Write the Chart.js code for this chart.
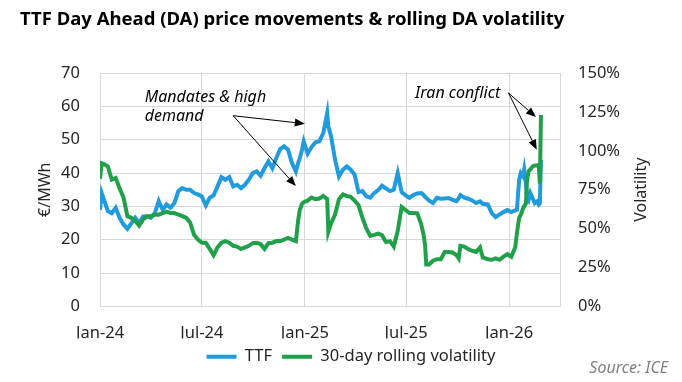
<!DOCTYPE html>
<html><head><meta charset="utf-8">
<script src="https://cdn.jsdelivr.net/npm/chart.js@4.4.1/dist/chart.umd.min.js"></script>
<style>html,body{margin:0;padding:0;background:#fff;}#wrap{width:682px;height:382px;position:relative;}</style>
</head><body><div id="wrap"><canvas id="c" width="682" height="382"></canvas></div>
<script>
// x values: days since 1 Jan 2024
const dateTicks = [0, 182, 366, 547, 731];
const dateTickLabels = ['Jan-24', 'Jul-24', 'Jan-25', 'Jul-25', 'Jan-26'];
const priceTicks = [0, 10, 20, 30, 40, 50, 60, 70];
const volTicks = [0, 25, 50, 75, 100, 125, 150];

const days = [0,3,7,14,21,28,35,42,49,56,63,70,77,84,91,98,105,112,119,126,133,140,147,154,161,168,175,182,189,196,203,210,217,224,231,238,245,252,259,266,273,280,287,294,301,308,315,322,329,336,343,350,354,357,361,364,371,378,385,392,399,406,408,413,420,427,434,441,448,455,462,469,476,483,490,497,504,511,518,525,532,539,546,553,560,567,574,578,581,583,588,595,602,609,616,623,630,637,641,644,651,658,665,672,679,684,693,700,707,714,721,728,735,742,745,749,752,756,758,761,763,766,769,773,777,781,784,786,788];

const ttfPrice = [29,34,32,28.6,28,29.6,26.6,24.6,23.3,24.9,26.6,25,27,27,26.6,28,31.6,29,30.6,29.6,31,34.6,35.5,35,35,34,33.6,33,30.3,32.6,33.3,36,38.8,38,38.8,36,36.5,35.5,36.5,38,40,40.5,39.2,41.5,43.5,41.5,44.5,47.2,48,47,43,40.5,43,44.5,47,49.5,45.8,47.8,49.2,49.5,52,58,54,51,44,39,41,42,41,39.5,34.3,34.6,33,32.6,34,34.9,36.2,35.4,34.6,35,40,34.3,33.3,32.6,33.4,33.9,34,33.5,32.8,32.5,31.8,31,32.6,32.3,32.4,32.5,32,31.6,32.5,33.4,32.6,32.3,31.8,31,31.5,30.8,30.6,28,26.8,27.6,28.3,28.9,28.3,28.8,29,38,40,39,41,37,33,32,34,32.5,31,31.5,30.6,31,44];

const volatility = [82,92,91.5,90,81.5,82.5,76,70,58,57,55,52,56,58,58,59,59,60,61,60,60,59,58,57,54,46,43,41,41,37,33,38,41,42,41,39,38.5,37,38,39,40.7,41,40,37,40.7,41,42,42,43,44,43,42,55,62,66,67,68,70,69,69.4,71,69,48,53.5,59,69,72,71,70.5,68,65,57,50,45.4,46,46.8,45.8,41.5,42,38.5,48.5,64,62,60,60,59.8,52.8,46.4,39,27,27,29.4,30.4,30.4,35,35,34.7,33,30.9,39,38.5,36.8,35.8,35,38,31.5,30.4,30,30.9,30,32,33.6,32,38,47,57,59,63,64.5,66,81,87,88,90,90.5,90.5,91,79,123];

const BLUE = '#1F9BDE';
const GREEN = '#21A04A';
const GRID = '#D9D9D9';
const TXT = '#262626';
const FONT = "'Noto Sans', 'Open Sans', sans-serif";

// annotation anchors in data units (day, €/MWh)
const notes = [
  { lines: ['Mandates & high', 'demand'], at: [80, 62.7], lineStep: 5.7,
    from: [238, 57.2], to: [[366, 54.8], [350, 36.1]] },
  { lines: ['Iran conflict'], at: [563, 64], lineStep: 5.7,
    from: [730, 64], to: [[779, 56.8], [780.5, 47]] }
];

const extras = {
  id: 'extras',
  afterDraw(chart) {
    const ctx = chart.ctx, xs = chart.scales.x, ys = chart.scales.y, ca = chart.chartArea;
    const P = (p) => [xs.getPixelForValue(p[0]), ys.getPixelForValue(p[1])];
    ctx.save();
    ctx.fillStyle = '#000'; ctx.strokeStyle = '#000';
    ctx.font = 'italic 16px ' + FONT;
    ctx.textAlign = 'left'; ctx.textBaseline = 'middle';
    notes.forEach(n => {
      n.lines.forEach((t, i) => {
        const [x, y] = P([n.at[0], n.at[1] - i * n.lineStep]);
        ctx.fillText(t, x, y);
      });
      const [fx, fy] = P(n.from);
      n.to.forEach(tp => {
        const [tx, ty] = P(tp);
        const ang = Math.atan2(ty - fy, tx - fx);
        const hl = 10, hw = 4;
        const bx = tx - hl * Math.cos(ang), by = ty - hl * Math.sin(ang);
        ctx.lineWidth = 1;
        ctx.beginPath(); ctx.moveTo(fx, fy); ctx.lineTo(bx, by); ctx.stroke();
        ctx.beginPath();
        ctx.moveTo(tx, ty);
        ctx.lineTo(bx + hw * Math.sin(ang), by - hw * Math.cos(ang));
        ctx.lineTo(bx - hw * Math.sin(ang), by + hw * Math.cos(ang));
        ctx.closePath(); ctx.fill();
      });
    });
    // right axis title, reading bottom to top
    ctx.fillStyle = TXT;
    ctx.font = '16px ' + FONT;
    ctx.translate(chart.scales.y2.left + 81, (ca.top + ca.bottom) / 2);
    ctx.rotate(-Math.PI / 2);
    ctx.textAlign = 'center'; ctx.textBaseline = 'middle';
    ctx.fillText('Volatility', 0, 0);
    ctx.restore();
    ctx.save();
    ctx.fillStyle = '#7F7F7F';
    ctx.font = 'italic 16px ' + FONT;
    ctx.textAlign = 'right'; ctx.textBaseline = 'middle';
    ctx.fillText('Source: ICE', 668, 368);
    ctx.restore();
  }
};

new Chart(document.getElementById('c'), {
  type: 'line',
  data: {
    datasets: [
      { label: 'TTF', data: days.map((d, i) => ({ x: d, y: ttfPrice[i] })),
        borderColor: BLUE, backgroundColor: BLUE, borderWidth: 4, pointRadius: 0,
        tension: 0, yAxisID: 'y', order: 1 },
      { label: '30-day rolling volatility', data: days.map((d, i) => ({ x: d, y: volatility[i] })),
        borderColor: GREEN, backgroundColor: GREEN, borderWidth: 4, pointRadius: 0,
        tension: 0, yAxisID: 'y2', order: 0 }
    ]
  },
  options: {
    responsive: false, animation: false, devicePixelRatio: 1,
    layout: { padding: { left: 20, right: 0, top: 0, bottom: 7 } },
    plugins: {
      title: { display: true, text: 'TTF Day Ahead (DA) price movements & rolling DA volatility',
        align: 'start', color: '#000', font: { family: FONT, size: 18.5, weight: 'bold' },
        padding: { top: 9, bottom: 41.8 } },
      legend: { position: 'bottom',
        labels: { usePointStyle: true, pointStyle: 'line', pointStyleWidth: 30, boxHeight: 3,
          color: TXT, font: { family: FONT, size: 16.5 }, padding: 10,
          sort: (a, b) => a.datasetIndex - b.datasetIndex } },
      tooltip: { enabled: false }
    },
    scales: {
      x: { type: 'linear', min: 0, max: 822,
        afterBuildTicks: (s) => { s.ticks = dateTicks.map(v => ({ value: v })); },
        afterFit: (s) => { s.height = 32; },
        ticks: { autoSkip: false, maxRotation: 0, padding: 17, color: TXT,
          font: { family: FONT, size: 16.5 },
          callback: (v) => dateTickLabels[dateTicks.indexOf(v)] },
        grid: { color: GRID, drawTicks: false }, border: { color: GRID } },
      y: { position: 'left', min: 0, max: 70,
        afterBuildTicks: (s) => { s.ticks = priceTicks.map(v => ({ value: v })); },
        afterFit: (s) => { s.width = 80; },
        ticks: { padding: 20, color: TXT, font: { family: FONT, size: 16.5 } },
        grid: { color: GRID, drawTicks: false }, border: { color: GRID },
        title: { display: true, text: '€/MWh', color: TXT, font: { family: FONT, size: 16 },
          padding: { top: 16, bottom: 0 } } },
      y2: { position: 'right', min: 0, max: 150,
        afterBuildTicks: (s) => { s.ticks = volTicks.map(v => ({ value: v })); },
        afterFit: (s) => { s.width = 122; },
        ticks: { padding: 18, color: TXT, font: { family: FONT, size: 16.5 }, callback: (v) => v + '%' },
        grid: { drawOnChartArea: false, drawTicks: false }, border: { color: GRID } }
    }
  },
  plugins: [extras]
});
</script></body></html>
